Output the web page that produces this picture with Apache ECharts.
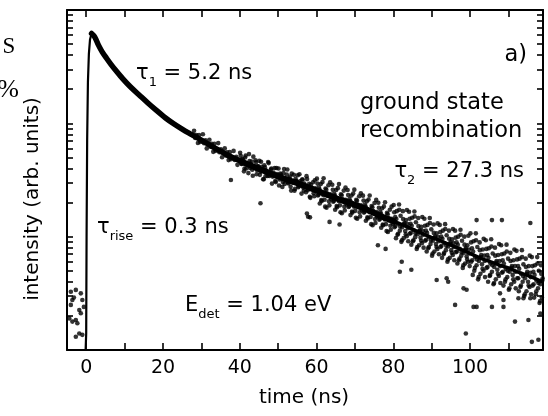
<!DOCTYPE html>
<html><head><meta charset="utf-8">
<script src="https://cdn.jsdelivr.net/npm/echarts@6/dist/echarts.min.js"></script>
<style>html,body{margin:0;padding:0;background:#fff}#c{width:548px;height:416px}</style>
</head><body><div id="c"></div>
<script>
const xTickLabels = [0, 20, 40, 60, 80, 100];
const xAllTicks = [0, 10, 20, 30, 40, 50, 60, 70, 80, 90, 100, 110];
const yMajorTicks = [100, 1000];
const yAllTicks = [20,30,40,50,60,70,80,90,100,200,300,400,500,600,700,800,900,1000,2000,3000,4000,5000,6000,7000,8000,9000];

const risePoints = [[-0.15,10],[0,14],[0.1,100],[0.25,700],[0.45,2300],[0.7,4100],[1.0,5500],[1.4,6200]];
const earlyDecay = [[1.4,6200],[2.2,5800],[3.2,4900],[4.2,4250],[5.3,3750],[6.5,3300],[8,2850],[9.5,2480],[11.5,2100],[13.8,1780],[16,1520],[18.3,1300],[20.6,1120],[22.9,985],[25.2,880],[27.5,795],[30,712],[32.1,645],[34.5,580],[36.7,526],[39,485],[41.3,447]];
const midCore = [[41.3,447],[43.5,415],[45.8,387],[48,360],[50.4,336],[52.7,315],[55,297],[57.3,277],[59.6,258],[62,240],[64.2,224],[66.5,210],[68.8,198],[71,185],[73.4,172],[75.6,158],[77.9,146],[80.2,136]];
const tailCore = [[80.2,136],[82.5,127],[84.8,117],[87.1,108],[89.4,100],[91.7,93.5],[94,87],[96.3,81],[98.5,75],[100.8,69],[103,64],[105.4,60],[107.7,56],[110,53],[112.3,49],[114.6,46],[116.7,43],[118.8,40]];
const preZeroNoise = [[-4.0,32.7],[-2.7,33.9],[-1.4,31.6],[-3.6,27.6],[-1.0,27.6],[-4.0,25],[-1.8,22.5],[-1.4,21.1],[-4.4,19],[-2.7,18.4],[-3.6,17.8],[-2.3,17.2],[-1.8,14],[-1.0,13.6],[-2.7,13.1],[-3.2,29],[-0.6,24]];
const bandPoints = [
[28.1,858],[28.4,744],[28.7,790],[29.1,671],[29.4,789],[29.7,684],[30.1,710],[30.4,802],[30.7,668],
[31.1,707],[31.4,601],[31.7,665],[32.1,717],[32.4,622],[32.7,661],[33.1,560],[33.4,659],[33.7,572],
[34.1,592],[34.4,669],[34.7,557],[35.1,590],[35.4,502],[35.7,556],[36.1,601],[36.4,521],[36.7,554],
[37.1,474],[37.4,557],[37.7,483],[38.1,505],[38.4,571],[38.7,475],[39.1,506],[39.4,430],[39.7,476],
[40.1,550],[40.4,439],[40.7,486],[41.1,377],[41.4,500],[41.7,400],[42.1,437],[42.4,535],[42.7,403],
[43.1,459],[43.4,345],[43.7,415],[44.1,473],[44.4,355],[44.7,418],[45.1,467],[45.4,374],[45.7,413],
[46.1,321],[46.4,426],[46.7,341],[47.1,372],[47.4,456],[47.7,343],[48.1,391],[48.4,294],[48.7,353],
[49.1,404],[49.4,303],[49.7,357],[50.1,400],[50.4,320],[50.7,354],[51.1,275],[51.4,365],[51.7,292],
[52.1,320],[52.4,392],[52.7,295],[53.1,339],[53.4,255],[53.7,306],[54.1,352],[54.4,264],[54.7,311],
[55.1,348],[55.4,279],[55.7,308],[56.1,240],[56.4,319],[56.7,255],[57.1,279],[57.4,342],[57.7,257],
[58.1,293],[58.4,220],[58.7,265],[59.1,302],[59.4,227],[59.7,267],
[60.1,325],[60.35,231],[60.6,271],[60.85,196],[61.1,291],[61.35,206],[61.6,242],[61.85,328],
[62.1,212],[62.35,266],[62.6,180],[62.85,230],[63.1,284],[63.35,189],[63.6,237],[63.85,214],
[64.1,287],[64.35,203],[64.6,239],[64.85,173],[65.1,258],[65.35,182],[65.6,215],[65.85,291],
[66.1,189],[66.35,237],[66.6,161],[66.85,205],[67.1,255],[67.35,170],[67.6,212],[67.85,192],
[68.1,258],[68.35,183],[68.6,215],[68.85,155],[69.1,231],[69.35,163],[69.6,192],[69.85,260],
[70.1,169],[70.35,211],[70.6,144],[70.85,183],[71.1,227],[71.35,151],[71.6,189],[71.85,171],
[72.1,230],[72.35,163],[72.6,191],[72.85,138],[73.1,205],[73.35,145],[73.6,171],[73.85,231],
[74.1,149],[74.35,186],[74.6,126],[74.85,161],[75.1,198],[75.35,132],[75.6,165],[75.85,149],
[76.1,199],[76.35,141],[76.6,166],[76.85,120],[77.1,178],[77.35,126],[77.6,148],[77.85,201],
[78.1,129],[78.35,162],[78.6,110],[78.85,140],[79.1,173],[79.35,115],[79.6,144],[79.85,130],
[80.1,190],[80.3,121],[80.5,149],[80.7,97],[80.9,168],[81.1,104],[81.3,130],[81.5,192],[81.7,113],[81.9,153],
[82.1,90],[82.3,121],[82.5,168],[82.7,97],[82.9,132],[83.1,112],[83.3,140],[83.5,101],[83.7,129],[83.9,91],
[84.1,166],[84.3,106],[84.5,130],[84.7,85],[84.9,147],[85.1,91],[85.3,114],[85.5,167],[85.7,99],[85.9,134],
[86.1,78],[86.3,105],[86.5,146],[86.7,84],[86.9,114],[87.1,98],[87.3,122],[87.5,88],[87.7,112],[87.9,80],
[88.1,144],[88.3,92],[88.5,113],[88.7,74],[88.9,127],[89.1,79],[89.3,99],[89.5,146],[89.7,86],[89.9,116],
[90.1,68],[90.3,92],[90.5,128],[90.7,74],[90.9,100],[91.1,86],[91.3,107],[91.5,78],[91.7,99],[91.9,70],
[92.1,127],[92.3,81],[92.5,100],[92.7,65],[92.9,113],[93.1,70],[93.3,88],[93.5,129],[93.7,76],[93.9,103],
[94.1,60],[94.3,82],[94.5,113],[94.7,65],[94.9,89],[95.1,76],[95.3,95],[95.5,69],[95.7,88],[95.9,62],
[96.1,113],[96.3,73],[96.5,89],[96.7,58],[96.9,100],[97.1,62],[97.3,78],[97.5,115],[97.7,68],[97.9,92],
[98.1,53],[98.3,72],[98.5,100],[98.7,58],[98.9,79],[99.1,67],[99.3,84],[99.5,60],[99.7,77],[99.9,55],
[100.1,107],[100.3,60],[100.5,79],[100.7,46],[100.9,91],[101.1,50],[101.3,66],[101.5,107],[101.7,56],[101.9,81],
[102.1,42],[102.3,61],[102.5,89],[102.7,47],[102.9,69],[103.1,57],[103.3,77],[103.5,50],[103.7,68],[103.9,44],
[104.1,93],[104.3,53],[104.5,69],[104.7,40],[104.9,79],[105.1,45],[105.3,58],[105.5,95],[105.7,49],[105.9,71],
[106.1,38],[106.3,54],[106.5,80],[106.7,42],[106.9,61],[107.1,51],[107.3,69],[107.5,45],[107.7,61],[107.9,39],
[108.1,84],[108.3,48],[108.5,62],[108.7,37],[108.9,71],[109.1,40],[109.3,52],[109.5,85],[109.7,44],[109.9,64],
[110.1,34],[110.3,49],[110.5,72],[110.7,38],[110.9,55],[111.1,46],[111.3,62],[111.5,40],[111.7,55],[111.9,35],
[112.1,75],[112.3,43],[112.5,55],[112.7,33],[112.9,64],[113.1,36],[113.3,47],[113.5,76],[113.7,40],[113.9,57],
[114.1,30],[114.3,43],[114.5,64],[114.7,33],[114.9,49],[115.1,40],[115.3,55],[115.5,36],[115.7,48],[115.9,31],
[116.1,66],[116.3,37],[116.5,49],[116.7,29],[116.9,56],[117.1,31],[117.3,41],[117.5,66],[117.7,35],[117.9,50],
[118.1,26],[118.3,38],[118.5,56],[118.7,29],[118.9,43]
];
const bandPoints2 = [
[40.25,517],[40.55,439],[40.8,476],[41.25,400],[41.55,521],[41.8,434],[42.25,364],[42.55,465],[42.8,437],
[43.25,390],[43.55,508],[43.8,415],[44.25,454],[44.55,386],[44.8,418],[45.25,351],[45.55,458],[45.8,381],
[46.25,321],[46.55,409],[46.8,385],[47.25,343],[47.55,446],[47.8,365],[48.25,399],[48.55,339],[48.8,367],
[49.25,310],[49.55,404],[49.8,336],[50.25,283],[50.55,361],[50.8,340],[51.25,304],[51.55,396],[51.8,323],
[52.25,354],[52.55,301],[52.8,326],[53.25,276],[53.55,360],[53.8,300],[54.25,254],[54.55,324],[54.8,305],
[55.25,273],[55.55,355],[55.8,290],[56.25,319],[56.55,271],[56.8,294],[57.25,247],[57.55,322],[57.8,268],
[58.25,225],[58.55,287],[58.8,270],[59.25,242],[59.55,314],[59.8,257],
[60.25,294],[60.55,235],[60.8,260],[61.25,210],[61.55,303],[61.8,232],[62.25,184],[62.55,260],[62.8,240],
[63.25,205],[63.55,302],[63.8,227],[64.25,259],[64.55,207],[64.8,230],[65.25,186],[65.55,268],[65.8,206],
[66.25,164],[66.55,232],[66.8,214],[67.25,184],[67.55,271],[67.8,204],[68.25,233],[68.55,186],[68.8,206],
[69.25,167],[69.55,240],[69.8,184],[70.25,147],[70.55,207],[70.8,191],[71.25,164],[71.55,241],[71.8,181],
[72.25,208],[72.55,166],[72.8,184],[73.25,148],[73.55,213],[73.8,164],[74.25,129],[74.55,182],[74.8,168],
[75.25,143],[75.55,211],[75.8,159],[76.25,180],[76.55,144],[76.8,159],[77.25,128],[77.55,185],[77.8,142],
[78.25,112],[78.55,158],[78.8,146],[79.25,125],[79.55,184],[79.8,138],
[80.25,164],[80.55,124],[80.8,143],[81.25,106],[81.55,173],[81.8,123],[82.25,93],[82.55,143],[82.8,129],
[83.25,105],[83.55,172],[83.8,119],[84.25,144],[84.55,108],[84.8,125],[85.25,93],[85.55,151],[85.8,107],
[86.25,81],[86.55,124],[86.8,112],[87.25,92],[87.55,149],[87.8,104],[88.25,125],[88.55,94],[88.8,108],
[89.25,81],[89.55,132],[89.8,93],[90.25,71],[90.55,108],[90.8,98],[91.25,81],[91.55,131],[91.8,91],
[92.25,110],[92.55,83],[92.8,96],[93.25,72],[93.55,117],[93.8,83],[94.25,63],[94.55,96],[94.8,87],
[95.25,72],[95.55,117],[95.8,81],[96.25,98],[96.55,74],[96.8,85],[97.25,64],[97.55,104],[97.8,73],
[98.25,56],[98.55,85],[98.8,77],[99.25,63],[99.55,102],[99.8,71],
[100.25,89],[100.55,62],[100.8,74],[101.25,53],[101.55,93],[101.8,63],[102.25,44],[102.55,76],[102.8,66],
[103.25,52],[103.55,96],[103.8,61],[104.25,78],[104.55,54],[104.8,65],[105.25,46],[105.55,82],[105.8,56],
[106.25,39],[106.55,68],[106.8,59],[107.25,47],[107.55,86],[107.8,55],[108.25,70],[108.55,49],[108.8,58],
[109.25,42],[109.55,74],[109.8,50],[110.25,35],[110.55,61],[110.8,53],[111.25,42],[111.55,77],[111.8,49],
[112.25,63],[112.55,43],[112.8,52],[113.25,37],[113.55,66],[113.8,45],[114.25,31],[114.55,54],[114.8,47],
[115.25,37],[115.55,68],[115.8,44],[116.25,55],[116.55,38],[116.8,46],[117.25,33],[117.55,58],[117.8,39],
[118.25,27],[118.55,47],[118.8,41]
];
const outlierPoints = [[82.2,60],[81.7,49],[84.7,51],[91.3,41.5],[93.9,43],[94.3,40],[96.1,25],[100.9,24],[101.7,24],[105.7,24],[108.7,24],[98.9,14],[111.7,17.8],[115.2,18.4],[98.3,35],[99.1,34],[107.8,31.6],[108.7,27.6],[116.1,11.8],[117.8,12.3],[112.6,28.6],[113.9,28.6],[115.7,28.6],[118.3,21],[101.7,140],[105.7,140],[108.3,140],[115.7,132],[57.8,150],[57.5,160],[58.3,148],[37.7,316],[45.4,197],[63.4,135],[66,128],[76,84],[78,78]];

const FONT = 'DejaVu Sans';
const X_MIN = -5, X_MAX = 119, Y_MIN = 10, Y_MAX = 10000;
const tickStyle = {color:'#000', width:1.6};

function xAxisDef(position, showLabel) {
  return {
    type:'value', position:position, min:X_MIN, max:X_MAX,
    axisLine:{show:true, onZero:false, lineStyle:{color:'#000', width:2}},
    axisTick:{show:true, inside:true, length:7, customValues:xAllTicks, lineStyle:tickStyle},
    axisLabel:{show:showLabel, customValues:xTickLabels, fontSize:19, fontFamily:FONT, color:'#000', margin:9},
    splitLine:{show:false}
  };
}
function yAxisDef(position) {
  return {
    type:'log', logBase:10, position:position, min:Y_MIN, max:Y_MAX,
    axisLine:{show:true, onZero:false, lineStyle:{color:'#000', width:2}},
    axisTick:{show:true, inside:true, length:6, customValues:yAllTicks, lineStyle:tickStyle},
    axisLabel:{show:false, customValues:yMajorTicks},
    splitLine:{show:false}, minorTick:{show:false}
  };
}

const chart = echarts.init(document.getElementById('c'), null, {renderer:'canvas'});
const sub = (t, s) => '{m|' + t + '}{s|' + s + '}';
const richStyle = {
  m:{fontSize:21, fontFamily:FONT, lineHeight:30, verticalAlign:'middle', fill:'#000', color:'#000'},
  b:{fontSize:22.5, fontFamily:FONT, lineHeight:30, verticalAlign:'middle', fill:'#000', color:'#000'},
  s:{fontSize:13, fontFamily:FONT, lineHeight:14, verticalAlign:'bottom', fill:'#000', color:'#000'}
};
function label(x, y, text, align) {
  return {type:'text', x:x, y:y, z:100, style:{text:text, rich:richStyle, textAlign:align||'left', textVerticalAlign:'middle', fontSize:21, fontFamily:FONT, fill:'#000'}};
}
const dot = 4.6;

chart.setOption({
  animation:false,
  backgroundColor:'#fff',
  grid:{left:67, right:5, top:10, bottom:66, containLabel:false},
  xAxis:[xAxisDef('bottom', true), xAxisDef('top', false)],
  yAxis:[yAxisDef('left'), yAxisDef('right')],
  series:[
    {type:'line', data:risePoints, showSymbol:false, lineStyle:{color:'#000', width:2.2}, clip:true},
    {type:'line', data:earlyDecay, showSymbol:false, smooth:0.3, lineStyle:{color:'#000', width:5.5, join:'round', cap:'round'}, clip:true},
    {type:'line', data:midCore, showSymbol:false, lineStyle:{color:'#000', width:6, join:'round', cap:'round'}, clip:true},
    {type:'line', data:tailCore, showSymbol:false, lineStyle:{color:'#000', width:3.5, join:'round'}, clip:true},
    {type:'scatter', data:preZeroNoise, symbolSize:dot, itemStyle:{color:'#000'}, clip:true},
    {type:'scatter', data:bandPoints, symbolSize:dot, itemStyle:{color:'#000'}, clip:true},
    {type:'scatter', data:bandPoints2, symbolSize:dot, itemStyle:{color:'#000'}, clip:true},
    {type:'scatter', data:outlierPoints, symbolSize:dot, itemStyle:{color:'#000'}, clip:true}
  ],
  graphic:[
    label(136, 74, sub('τ','1') + '{m| = 5.2 ns}'),
    label(527, 55, '{b|a)}', 'right'),
    label(360, 103, '{b|ground state}'),
    label(360, 131, '{b|recombination}'),
    label(524, 172, sub('τ','2') + '{m| = 27.3 ns}', 'right'),
    label(97, 228, sub('τ','rise') + '{m| = 0.3 ns}'),
    label(185, 306, sub('E','det') + '{m| = 1.04 eV}'),
    {type:'text', x:33, y:199, rotation:Math.PI/2, style:{text:'intensity (arb. units)', textAlign:'center', textVerticalAlign:'middle', fontSize:20, fontFamily:FONT, fill:'#000'}},
    {type:'text', x:304, y:398, style:{text:'time (ns)', textAlign:'center', textVerticalAlign:'middle', fontSize:20, fontFamily:FONT, fill:'#000'}},
    {type:'text', x:9, y:47, style:{text:'S', textAlign:'center', textVerticalAlign:'middle', fontSize:23, fontFamily:'Liberation Serif', fill:'#000'}},
    {type:'text', x:19, y:90, style:{text:'%', textAlign:'right', textVerticalAlign:'middle', fontSize:26, fontFamily:'Liberation Serif', fill:'#000'}}
  ]
});
</script></body></html>
